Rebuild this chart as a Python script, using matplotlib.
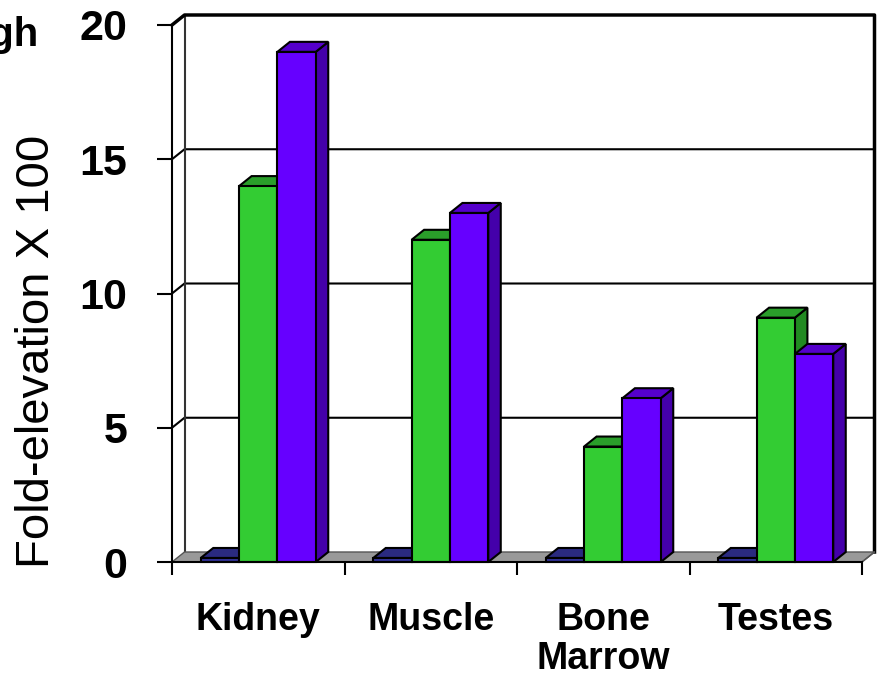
import matplotlib
matplotlib.use("Agg")
import matplotlib.pyplot as plt
from matplotlib.patches import Polygon, Rectangle

plt.rcParams['font.family'] = ['Liberation Sans', 'DejaVu Sans']

# data
categories = ["Kidney", "Muscle", "Bone\nMarrow", "Testes"]
series_low = [0.15, 0.15, 0.15, 0.15]
series_mid = [14.0, 12.0, 4.3, 9.1]
series_high = [19.0, 13.0, 6.1, 7.75]
yticks = [0, 5, 10, 15, 20]

series = [series_low, series_mid, series_high]
front_cols = ["#333399", "#33CC33", "#6600FF"]
top_cols = ["#2A2A80", "#2A9E2A", "#5500CC"]
side_cols = ["#22226A", "#228A22", "#4400AA"]

W, H = 885, 685
fig = plt.figure(figsize=(W / 100, H / 100), dpi=100)
# front plane of the 3d box, in pixels
x0p, x1p, y0p, y1p = 172, 862, 562, 25
ax = fig.add_axes([x0p / W, (H - y0p) / H, (x1p - x0p) / W, (y0p - y1p) / H])
ax.set_xlim(0, 4)
ax.set_ylim(0, 20)

# depth offset in data units
dx = 12.5 / (x1p - x0p) * 4
dy = 10.0 / (y0p - y1p) * 20

kw = dict(clip_on=False)

# floor
ax.add_patch(Polygon([(0, 0), (4, 0), (4 + dx, dy), (dx, dy)], closed=True,
                     facecolor="#999999", edgecolor="#555555", lw=1, zorder=1, **kw))
# grid lines on side + back wall
for v in [5, 10, 15]:
    ax.plot([0, dx, 4 + dx], [v, v + dy, v + dy], color="black", lw=1.5, zorder=0.5, **kw)
# walls
ax.plot([dx, dx], [dy, 20 + dy], color="#333333", lw=1.5, zorder=0.6, **kw)
ax.plot([0, dx, 4 + dx, 4 + dx], [20, 20 + dy, 20 + dy, dy], color="black", lw=2.5, zorder=0.6, **kw)
ax.plot([4, 4 + dx], [0, dy], color="#555555", lw=1, zorder=1.1, **kw)

# bars
gap = 1 / 6
bw = (1 - 2 * gap) / 3
for i in range(len(categories)):
    for j, vals in enumerate(series):
        v = vals[i]
        xl = i + gap + j * bw
        z = 2 + j * 0.1
        ax.add_patch(Polygon([(xl + bw, 0), (xl + bw + dx, dy), (xl + bw + dx, v + dy), (xl + bw, v)],
                             closed=True, facecolor=side_cols[j], edgecolor="black", lw=1.5, zorder=z, **kw))
        ax.add_patch(Polygon([(xl, v), (xl + bw, v), (xl + bw + dx, v + dy), (xl + dx, v + dy)],
                             closed=True, facecolor=top_cols[j], edgecolor="black", lw=1.5, zorder=z, **kw))
        ax.add_patch(Rectangle((xl, 0), bw, v, facecolor=front_cols[j], edgecolor="black",
                               lw=1.5, zorder=z + 0.05, **kw))

# axes styling
for s in ["top", "right"]:
    ax.spines[s].set_visible(False)
ax.spines["left"].set_linewidth(1.5)
ax.spines["bottom"].set_linewidth(1.5)
ax.spines["bottom"].set_bounds(0, 4)
ax.set_facecolor("none")
ax.set_yticks(yticks)
ax.set_yticklabels([str(t) for t in yticks], fontsize=31, fontweight="bold")
ax.tick_params(axis="y", direction="out", length=11, width=1.5, pad=21)
ax.set_xticks([0, 1, 2, 3, 4])
ax.set_xticklabels([])
ax.tick_params(axis="x", direction="out", length=9, width=1.5)

for i, c in enumerate(categories):
    ax.annotate(c, xy=(i + 0.5, 0), xycoords="data", xytext=(0, -29), textcoords="offset points",
                ha="center", va="top", fontsize=27, fontweight="bold", linespacing=1.1,
                annotation_clip=False)

fig.text(37 / W, 1 - 351 / H, "Fold-elevation X 100", rotation=90, ha="center", va="center", fontsize=34)
fig.text(39 / W, 1 - 46 / H, "High", ha="right", va="baseline", fontsize=29, fontweight="bold")

fig.savefig("out.png", dpi=100)
